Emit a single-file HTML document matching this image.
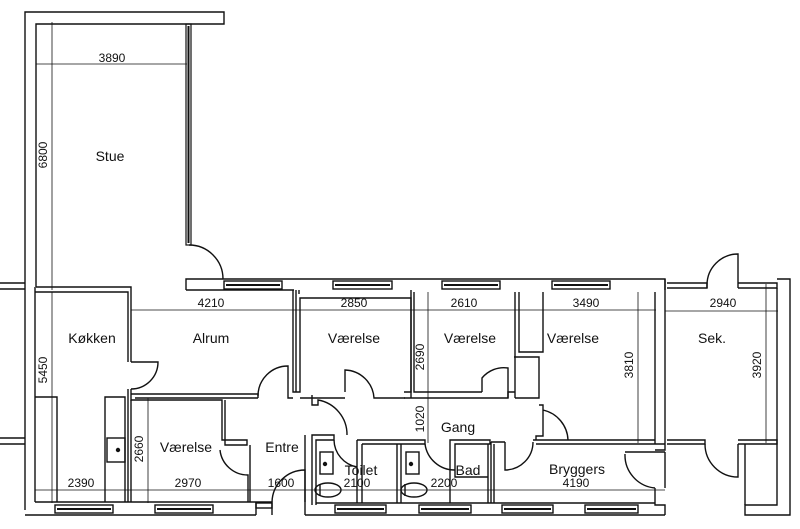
<!DOCTYPE html>
<html><head><meta charset="utf-8"><style>
body{margin:0;background:#fff}
svg{display:block}
text{font-family:"Liberation Sans",sans-serif;font-size:14px;fill:#111}
.d{font-size:12px}
</style></head><body>
<svg width="800" height="529" viewBox="0 0 800 529" xmlns="http://www.w3.org/2000/svg">
<g fill="none" stroke="#111" stroke-width="1.4">
<path d="M25 510 V12 H224 V24 H36 V287"/>
<rect x="186" y="24" width="5" height="221" stroke-width="1.2"/>
<line x1="188.5" y1="26" x2="188.5" y2="243" stroke-width="2"/>
<path d="M189 245 A34 34 0 0 1 223 279"/>
<path d="M186 290 V279 H665 V292"/>
<path d="M186 290 H294"/>
<rect x="224" y="281" width="58" height="8"/><line x1="226" y1="285" x2="280" y2="285" stroke-width="2"/>
<rect x="333" y="281" width="59" height="8"/><line x1="335" y1="285" x2="390" y2="285" stroke-width="2"/>
<rect x="442" y="281" width="58" height="8"/><line x1="444" y1="285" x2="498" y2="285" stroke-width="2"/>
<rect x="552" y="281" width="58" height="8"/><line x1="554" y1="285" x2="608" y2="285" stroke-width="2"/>
<path d="M35 287 V502"/>
<path d="M36 287 H131 V362"/>
<path d="M35 292 H128 V362"/>
<path d="M131 362 H158 A27 27 0 0 1 131 389"/>
<path d="M128 389 V502 M131 389 V400 H222 V440 H247 V445 H225 V400"/>
<path d="M131 400 V502"/>
<path d="M135 398 H258 M131 394 H258 V398"/>
<path d="M258 396 A30 30 0 0 1 288 366 V398 H293"/>
<path d="M293 290 V392 H300 V298 H411 V392 H404"/>
<path d="M299 290 V294 M296 290 V392"/>
<path d="M345 392 V370 A30 30 0 0 1 374 398 H405"/>
<path d="M300 398 H345"/>
<path d="M220 450 A28 28 0 0 0 248 475 V502"/>
<path d="M250 445 V502"/>
<path d="M35 397 H57 V502 M105 502 V397 H125 V502"/>
<rect x="107" y="438" width="18" height="24"/><circle cx="118" cy="450" r="1.5" fill="#111"/>
<path d="M25 515 H256 M35 502 H272 V515 M256 502 V515"/>
<rect x="256" y="503" width="16" height="5"/>
<path d="M272 502 A33 33 0 0 1 305 470 V502"/>
<rect x="55" y="505" width="58" height="8"/><line x1="57" y1="509" x2="111" y2="509" stroke-width="2"/>
<rect x="155" y="505" width="58" height="8"/><line x1="157" y1="509" x2="211" y2="509" stroke-width="2"/>
<path d="M305 515 H665 M316 503 H655"/>
<path d="M305 515 V435 M312 505 V435 H334 V440 H316 V505"/>
<rect x="335" y="505" width="51" height="8"/><line x1="337" y1="509" x2="384" y2="509" stroke-width="2"/>
<rect x="419" y="505" width="52" height="8"/><line x1="421" y1="509" x2="469" y2="509" stroke-width="2"/>
<rect x="502" y="505" width="51" height="8"/><line x1="504" y1="509" x2="551" y2="509" stroke-width="2"/>
<rect x="585" y="505" width="53" height="8"/><line x1="587" y1="509" x2="636" y2="509" stroke-width="2"/>
<path d="M312 400 V405 H318 V400 A35 35 0 0 1 347 435"/>
<path d="M312 395 V400"/>
<path d="M334 440 A28 28 0 0 0 357 467"/>
<path d="M357 440 V503 M362 444 V503 M357 440 H425 V444 H362"/>
<path d="M397 444 V503 M401 444 V503"/>
<rect x="320" y="452" width="13" height="22"/><circle cx="325" cy="464" r="1.5" fill="#111"/>
<rect x="406" y="452" width="13" height="22"/><circle cx="411" cy="464" r="1.5" fill="#111"/>
<ellipse cx="328" cy="490" rx="13" ry="7"/><line x1="320" y1="484" x2="320" y2="496"/>
<ellipse cx="414" cy="490" rx="13" ry="7"/><line x1="405" y1="484" x2="405" y2="496"/>
<path d="M425 444 A30 30 0 0 0 455 470"/>
<path d="M450 503 V440 H490 V444 H455 V477 H488 V444 M488 477 V503"/>
<path d="M491 442 V503 M494 444 V503 M491 442 H505"/>
<path d="M505 442 V470 A28 28 0 0 0 533 442"/>
<path d="M533 440 H655 M536 444 H665"/>
<path d="M411 290 V398 M414 292 V392 H482 M404 398 H482"/>
<path d="M482 392 V378 A28 28 0 0 1 508 368 V398 H482"/>
<path d="M508 398 V392 H515 M515 292 V398 M519 292 V352 H543 V292 M514 357 H539 V398 H515"/>
<path d="M539 405 H543 V410 A32 32 0 0 1 568 440 M543 410 V436 H536 V440"/>
<path d="M655 292 V444 M665 292 V450 H655 M665 279 V290"/>
<path d="M625 452 H665 M655 488 A33 33 0 0 1 625 454 M655 488 V505 H665 V515 M665 452 V488"/>
<path d="M667 283 H707 V288 H667 M738 283 H777 V288 H738"/>
<path d="M707 288 V285 A31 31 0 0 1 738 254 V288"/>
<path d="M777 279 H790 V515 H745 V505 H777 V288"/>
<path d="M667 440 H705 V444 H667 M738 440 H777 V444 H738"/>
<path d="M705 444 A33 33 0 0 0 738 477 V444"/>
<path d="M745 505 V444"/>
<path d="M0 283 H25 M0 289 H25 M0 438 H25 M0 444 H25"/>
</g>
<g stroke="#111" stroke-width="0.8" fill="none">
<line x1="36" y1="64" x2="187" y2="64"/>
<line x1="52" y1="22" x2="52" y2="290"/>
<line x1="131" y1="310" x2="656" y2="310"/>
<line x1="665" y1="311" x2="778" y2="311"/>
<line x1="52" y1="292" x2="52" y2="503"/>
<line x1="35" y1="490" x2="665" y2="490"/>
<line x1="148" y1="398" x2="148" y2="503"/>
<line x1="428" y1="292" x2="428" y2="443"/>
<line x1="638" y1="292" x2="638" y2="443"/>
<line x1="766" y1="284" x2="766" y2="443"/>
</g>
<text x="112" y="62" text-anchor="middle" class="d">3890</text>
<text x="110" y="161" text-anchor="middle">Stue</text>
<text x="47" y="155" class="d" transform="rotate(-90 47 155)" text-anchor="middle">6800</text>
<text x="47" y="370" class="d" transform="rotate(-90 47 370)" text-anchor="middle">5450</text>
<text x="143" y="449" class="d" transform="rotate(-90 143 449)" text-anchor="middle">2660</text>
<text x="424" y="357" class="d" transform="rotate(-90 424 357)" text-anchor="middle">2690</text>
<text x="424" y="419" class="d" transform="rotate(-90 424 419)" text-anchor="middle">1020</text>
<text x="633" y="365" class="d" transform="rotate(-90 633 365)" text-anchor="middle">3810</text>
<text x="761" y="365" class="d" transform="rotate(-90 761 365)" text-anchor="middle">3920</text>
<text x="211" y="307" text-anchor="middle" class="d">4210</text>
<text x="354" y="307" text-anchor="middle" class="d">2850</text>
<text x="464" y="307" text-anchor="middle" class="d">2610</text>
<text x="586" y="307" text-anchor="middle" class="d">3490</text>
<text x="723" y="307" text-anchor="middle" class="d">2940</text>
<text x="81" y="487" text-anchor="middle" class="d">2390</text>
<text x="188" y="487" text-anchor="middle" class="d">2970</text>
<text x="281" y="487" text-anchor="middle" class="d">1600</text>
<text x="357" y="487" text-anchor="middle" class="d">2100</text>
<text x="444" y="487" text-anchor="middle" class="d">2200</text>
<text x="576" y="487" text-anchor="middle" class="d">4190</text>
<text x="92" y="343" text-anchor="middle">Køkken</text>
<text x="211" y="343" text-anchor="middle">Alrum</text>
<text x="354" y="343" text-anchor="middle">Værelse</text>
<text x="470" y="343" text-anchor="middle">Værelse</text>
<text x="573" y="343" text-anchor="middle">Værelse</text>
<text x="712" y="343" text-anchor="middle">Sek.</text>
<text x="186" y="452" text-anchor="middle">Værelse</text>
<text x="282" y="452" text-anchor="middle">Entre</text>
<text x="458" y="432" text-anchor="middle">Gang</text>
<text x="361" y="475" text-anchor="middle">Toilet</text>
<text x="468" y="475" text-anchor="middle">Bad</text>
<text x="577" y="474" text-anchor="middle">Bryggers</text>
</svg>
</body></html>
